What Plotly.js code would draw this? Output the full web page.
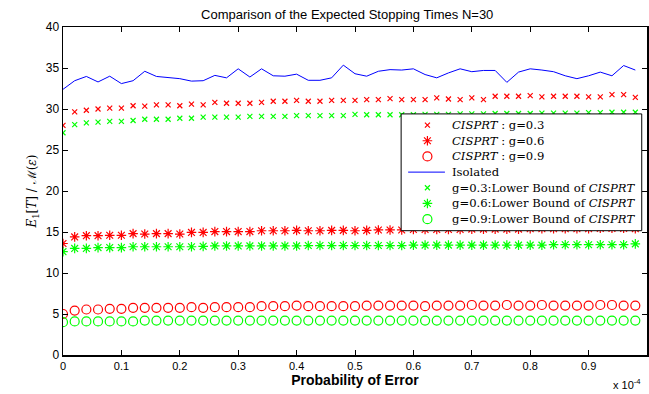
<!DOCTYPE html>
<html>
<head>
<meta charset="utf-8">
<script src="https://cdn.plot.ly/plotly-3.0.1.min.js"></script>
<style>html,body{margin:0;padding:0;background:#fff;}#chart{width:649px;height:394px;}</style>
</head>
<body>
<div id="chart"></div>
<script>
// Probability of error (units of 1e-4)
var probError = [0,0.02,0.04,0.06,0.08,0.10,0.12,0.14,0.16,0.18,0.20,0.22,0.24,0.26,0.28,0.30,0.32,0.34,0.36,0.38,0.40,0.42,0.44,0.46,0.48,0.50,0.52,0.54,0.56,0.58,0.60,0.62,0.64,0.66,0.68,0.70,0.72,0.74,0.76,0.78,0.80,0.82,0.84,0.86,0.88,0.90,0.92,0.94,0.96,0.98];

var cisprt03 = [28.0,29.65,29.85,30.0,30.1,30.1,30.4,30.35,30.5,30.5,30.4,30.6,30.5,30.8,30.7,30.7,30.7,30.8,30.95,30.95,31.05,30.95,30.95,31.05,31.05,31.05,31.14,31.14,31.26,31.14,31.14,31.14,31.35,31.22,31.14,31.35,31.14,31.55,31.55,31.55,31.63,31.47,31.55,31.55,31.55,31.47,31.47,31.75,31.75,31.42];
var cisprt06 = [13.6,14.4,14.55,14.55,14.6,14.6,14.8,14.75,14.8,14.8,14.75,14.95,14.95,15.05,15.05,15.05,15.05,15.15,15.15,15.15,15.2,15.15,15.15,15.2,15.2,15.15,15.2,15.25,15.25,15.25,15.3,15.3,15.3,15.3,15.3,15.35,15.35,15.35,15.35,15.35,15.4,15.4,15.4,15.4,15.4,15.4,15.45,15.45,15.45,15.4];
var cisprt09 = [5.0,5.42,5.55,5.55,5.63,5.63,5.75,5.75,5.75,5.75,5.75,5.83,5.75,5.83,5.83,5.83,5.83,5.95,5.95,5.95,6.03,5.95,5.95,5.95,5.95,5.95,6.03,6.03,6.03,6.03,6.03,5.95,6.03,6.03,6.03,6.1,6.03,6.03,6.1,6.03,6.03,6.1,6.03,6.03,6.03,6.03,6.1,6.1,6.03,6.03];
var isolated = [32.4,33.45,33.97,33.3,34.0,33.1,33.45,34.6,33.97,33.8,33.7,33.4,33.45,34.1,33.8,34.9,33.9,34.9,34.05,34.0,34.25,33.5,33.5,33.8,35.35,34.3,34.0,34.6,34.8,34.75,34.9,34.2,33.8,34.4,34.9,34.55,34.7,34.7,33.25,34.5,34.9,34.75,34.55,34.05,33.7,34.05,34.5,34.05,35.3,34.75];
var lower03 = [27.1,28.1,28.3,28.4,28.5,28.5,28.6,28.75,28.75,28.75,28.87,28.87,29.0,29.0,29.0,29.0,29.1,29.1,29.1,29.1,29.2,29.2,29.2,29.2,29.2,29.35,29.3,29.3,29.3,29.3,29.3,29.35,29.35,29.35,29.4,29.4,29.4,29.45,29.45,29.45,29.45,29.5,29.5,29.5,29.5,29.55,29.55,29.6,29.6,29.6];
var lower06 = [12.6,13.0,13.0,13.1,13.1,13.1,13.2,13.2,13.2,13.2,13.2,13.2,13.25,13.3,13.3,13.3,13.3,13.3,13.3,13.3,13.3,13.35,13.35,13.35,13.35,13.35,13.35,13.35,13.35,13.35,13.4,13.4,13.4,13.4,13.4,13.4,13.4,13.4,13.4,13.4,13.4,13.4,13.45,13.45,13.45,13.45,13.45,13.45,13.45,13.55];
var lower09 = [4.0,4.1,4.1,4.1,4.1,4.1,4.1,4.2,4.2,4.2,4.2,4.2,4.2,4.2,4.2,4.2,4.2,4.2,4.2,4.2,4.2,4.2,4.2,4.2,4.2,4.2,4.2,4.2,4.2,4.2,4.2,4.2,4.2,4.2,4.2,4.2,4.2,4.2,4.2,4.2,4.2,4.2,4.2,4.2,4.2,4.2,4.2,4.2,4.2,4.2];

var names = [
  '<i>CISPRT</i> : g=0.3',
  '<i>CISPRT</i> : g=0.6',
  '<i>CISPRT</i> : g=0.9',
  'Isolated',
  'g=0.3:Lower Bound of <i>CISPRT</i>',
  'g=0.6:Lower Bound of <i>CISPRT</i>',
  'g=0.9:Lower Bound of <i>CISPRT</i>'
];
var xTicks = [0,0.1,0.2,0.3,0.4,0.5,0.6,0.7,0.8,0.9];
var xTickText = ['0','0.1','0.2','0.3','0.4','0.5','0.6','0.7','0.8','0.9'];
var yTicks = [0,5,10,15,20,25,30,35,40];

var RED = 'rgb(255,0,0)', GREEN = 'rgb(0,255,0)', BLUE = 'rgb(0,0,255)';
var series = [
  {y: cisprt03, color: RED, symbol: 'x-thin-open', size: 5},
  {y: cisprt06, color: RED, symbol: 'asterisk-open', size: 8},
  {y: cisprt09, color: RED, symbol: 'circle-open', size: 9},
  {y: isolated, color: BLUE, line: true},
  {y: lower03, color: GREEN, symbol: 'x-thin-open', size: 5},
  {y: lower06, color: GREEN, symbol: 'asterisk-open', size: 8},
  {y: lower09, color: GREEN, symbol: 'circle-open', size: 9}
];

var data = series.map(function (s, i) {
  var t = {x: probError, y: s.y, name: names[i], type: 'scatter', showlegend: false};
  if (s.line) { t.mode = 'lines'; t.line = {color: s.color, width: 1}; }
  else { t.mode = 'markers'; t.marker = {symbol: s.symbol, size: s.size, color: s.color, line: {color: s.color, width: 1.2}}; }
  return t;
});

// ---- custom legend (drawn on an overlay axis in plot-area fractions) ----
var LG = {x0: 0.579, x1: 0.991, y0: 0.379, y1: 0.735, rowTop: 0.701, rowStep: 0.0478,
          symX: 0.624, lineX0: 0.591, lineX1: 0.654, textX: 0.663};
data.push({x: [LG.x0, LG.x1, LG.x1, LG.x0, LG.x0], y: [LG.y0, LG.y0, LG.y1, LG.y1, LG.y0],
  xaxis: 'x2', yaxis: 'y2', type: 'scatter', mode: 'lines', fill: 'toself',
  fillcolor: '#fff', line: {color: '#000', width: 1}, showlegend: false});
var annotations = [];
series.forEach(function (s, i) {
  var ry = LG.rowTop - i * LG.rowStep;
  if (s.line) {
    data.push({x: [LG.lineX0, LG.lineX1], y: [ry, ry], xaxis: 'x2', yaxis: 'y2', type: 'scatter',
      mode: 'lines', line: {color: s.color, width: 1}, showlegend: false});
  } else {
    data.push({x: [LG.symX], y: [ry], xaxis: 'x2', yaxis: 'y2', type: 'scatter', mode: 'markers',
      marker: {symbol: s.symbol, size: s.size, color: s.color, line: {color: s.color, width: 1.2}},
      showlegend: false});
  }
  annotations.push({text: names[i], xref: 'paper', yref: 'paper', x: LG.textX, y: ry,
    xanchor: 'left', yanchor: 'middle', showarrow: false,
    font: {family: 'DejaVu Serif, Liberation Serif, serif', size: 11.6, color: '#000'}});
});
annotations.push({
  text: 'x 10<sup>-4</sup>', xref: 'paper', yref: 'paper', x: 0.965, y: -0.088,
  xanchor: 'center', yanchor: 'middle', showarrow: false, font: {size: 11}
});

var layout = {
  width: 649, height: 394,
  margin: {l: 63, r: 2, t: 27, b: 39},
  paper_bgcolor: '#fff', plot_bgcolor: '#fff',
  font: {family: 'Liberation Sans, Arial, sans-serif', size: 12, color: '#000'},
  title: {text: 'Comparison of the Expected Stopping Times N=30', font: {size: 13, color: '#000'}, x: 0.535, xanchor: 'center', y: 0.975, yanchor: 'top'},
  xaxis: {
    range: [0, 1], tickvals: xTicks, ticktext: xTickText,
    ticks: 'inside', ticklen: 5, tickcolor: '#000', mirror: 'ticks',
    showline: true, linecolor: '#000', linewidth: 1.5, showgrid: false, zeroline: false,
    tickfont: {size: 11},
    title: {text: '<b>Probability of Error</b>', font: {size: 14}, standoff: 3}
  },
  yaxis: {
    range: [0, 40], tickvals: yTicks,
    ticks: 'inside', ticklen: 5, tickcolor: '#000', mirror: 'ticks',
    showline: true, linecolor: '#000', linewidth: 1.5, showgrid: false, zeroline: false,
    tickfont: {size: 12},
    title: {text: '<i>E</i><sub>1</sub>[<i>T</i>] / ℳ(<i>ε</i>)', font: {size: 12, family: 'DejaVu Serif, serif'}, standoff: 6}
  },
  xaxis2: {overlaying: 'x', range: [0, 1], visible: false, fixedrange: true},
  yaxis2: {overlaying: 'y', range: [0, 1], visible: false, fixedrange: true},
  showlegend: false,
  annotations: annotations
};
Plotly.newPlot('chart', data, layout, {displayModeBar: false, staticPlot: true});
</script>
</body>
</html>
